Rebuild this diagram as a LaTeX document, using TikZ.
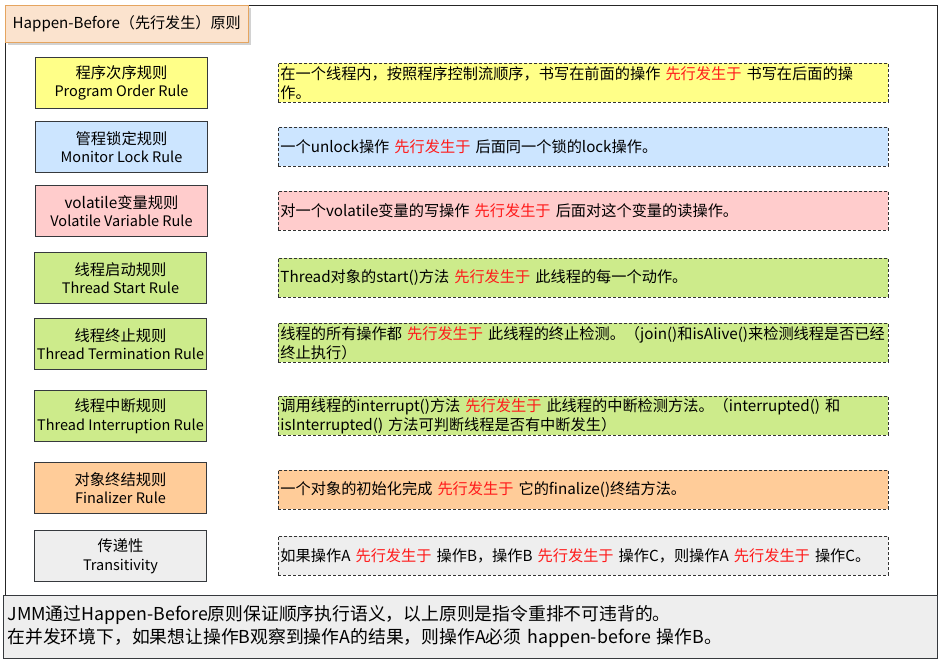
\documentclass[tikz,border=0pt]{standalone}
\usepackage{fontspec}
\setmainfont{Noto Sans CJK SC}
\usetikzlibrary{shadows}
\definecolor{cyellow}{HTML}{FFFF88}
\definecolor{cblue}{HTML}{CCE5FF}
\definecolor{cpink}{HTML}{FFCCCC}
\definecolor{cgreen}{HTML}{CDEB8B}
\definecolor{corange}{HTML}{FFCC99}
\definecolor{cgray}{HTML}{EEEEEE}
\definecolor{cborder}{HTML}{36393D}
\definecolor{ctitlefill}{HTML}{FBE3CE}
\definecolor{ctitledraw}{HTML}{E5A560}
\definecolor{cred}{HTML}{FF1A1A}
\newcommand{\hb}[1]{\textcolor{cred}{#1}}
\newcommand{\cjkline}[1]{{\fontsize{15.3}{18.5}\selectfont #1}}
\tikzset{
  rulebox/.style={draw=cborder, line width=1pt, anchor=north west, minimum width=172pt, minimum height=51pt, align=center, inner sep=0pt, font=\fontsize{14.5}{18.5}\selectfont},
  descbox/.style={draw=black!80, dashed, dash pattern=on 3pt off 2pt, line width=0.9pt, anchor=north west, minimum height=39pt, text width=606pt, inner xsep=2pt, inner ysep=0pt, align=left, font=\fontsize{15.2}{19}\selectfont},
}
\begin{document}
\begin{tikzpicture}[x=1pt,y=-1pt]
\useasboundingbox (0,0) rectangle (942,663);
\fill[white] (0,0) rectangle (942,663);
% outer frame
\node[draw=black!85, line width=1pt, anchor=north west, minimum width=932pt, minimum height=590pt, inner sep=0pt] (frame) at (5,5) {};
% bottom note
\node[draw=cborder, fill=cgray, line width=1pt, anchor=north west, minimum width=934pt, minimum height=63pt, inner xsep=4pt, inner ysep=0pt, align=left, text width=926pt, font=\fontsize{17.8}{23}\selectfont] (note) at (3,595) {JMM通过Happen-Before原则保证顺序执行语义，以上原则是指令重排不可违背的。\\在并发环境下，如果想让操作B观察到操作A的结果，则操作A必须 happen-before 操作B。};
% title
\node[draw=ctitledraw, fill=ctitlefill, line width=1.3pt, anchor=north west, minimum width=243pt, minimum height=37pt, inner xsep=7pt, text width=229pt, align=left, font=\fontsize{15.1}{18}\selectfont, drop shadow={shadow xshift=2pt, shadow yshift=-2pt, opacity=0.35}] (title) at (5,5) {Happen-Before（先行发生）原则};
% left rule boxes
\node[rulebox, fill=cyellow] (r1) at (35,57) {\cjkline{程序次序规则}\\Program Order Rule};
\node[rulebox, fill=cblue] (r2) at (35,121) {\cjkline{管程锁定规则}\\Monitor Lock Rule};
\node[rulebox, fill=cpink] (r3) at (35,185) {\cjkline{volatile变量规则}\\Volatile Variable Rule};
\node[rulebox, fill=cgreen] (r4) at (34,252) {\cjkline{线程启动规则}\\Thread Start Rule};
\node[rulebox, fill=cgreen] (r5) at (34,318) {\cjkline{线程终止规则}\\Thread Termination Rule};
\node[rulebox, fill=cgreen] (r6) at (34,390) {\cjkline{线程中断规则}\\Thread Interruption Rule};
\node[rulebox, fill=corange] (r7) at (34,462) {\cjkline{对象终结规则}\\Finalizer Rule};
\node[rulebox, fill=cgray] (r8) at (34,530) {\cjkline{传递性}\\Transitivity};
% right description boxes
\node[descbox, fill=cyellow] (d1) at (278,63) {在一个线程内，按照程序控制流顺序，书写在前面的操作 \hb{先行发生于} 书写在后面的操\\作。};
\node[descbox, fill=cblue] (d2) at (278,127) {一个unlock操作 \hb{先行发生于} 后面同一个锁的lock操作。};
\node[descbox, fill=cpink] (d3) at (278,191) {对一个volatile变量的写操作 \hb{先行发生于} 后面对这个变量的读操作。};
\node[descbox, fill=cgreen] (d4) at (278,258) {Thread对象的start()方法 \hb{先行发生于} 此线程的每一个动作。};
\node[descbox, fill=cgreen] (d5) at (278,323) {线程的所有操作都 \hb{先行发生于} 此线程的终止检测。（join()和isAlive()来检测线程是否已经\\终止执行）};
\node[descbox, fill=cgreen] (d6) at (278,396) {调用线程的interrupt()方法 \hb{先行发生于} 此线程的中断检测方法。（interrupted() 和\\isInterrupted() 方法可判断线程是否有中断发生）};
\node[descbox, fill=corange] (d7) at (278,470) {一个对象的初始化完成 \hb{先行发生于} 它的finalize()终结方法。};
\node[descbox, fill=cgray] (d8) at (278,536) {如果操作A \hb{先行发生于} 操作B，操作B \hb{先行发生于} 操作C，则操作A \hb{先行发生于} 操作C。};
\end{tikzpicture}
\end{document}
